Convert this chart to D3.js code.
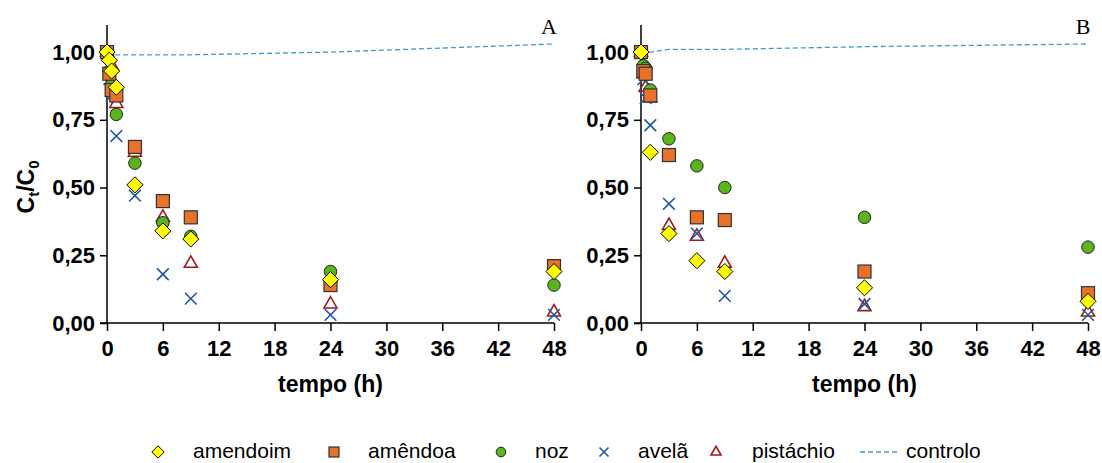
<!DOCTYPE html>
<html>
<head>
<meta charset="utf-8">
<script src="https://cdn.jsdelivr.net/npm/d3@7/dist/d3.min.js"></script>
<style>
  body { margin: 0; background: #fff; }
  svg text { font-family: Arial, "Liberation Sans", sans-serif; }
  .tick text { font-weight: bold; font-size: 22px; fill: #000; }
  .axis path, .axis line { stroke: #000; stroke-width: 1.5; }
</style>
</head>
<body>
<div id="chart"></div>
<script>
// sampling times (h)
var times = [0, 0.25, 0.5, 1, 3, 6, 9, 24, 48];
var controlTimes = [0, 1, 3, 6, 9, 24, 48];
var xTicks = [0, 6, 12, 18, 24, 30, 36, 42, 48];
var yTicks = [0, 0.25, 0.5, 0.75, 1];

var seriesNames = ["amendoim", "amêndoa", "noz", "avelã", "pistáchio"];

// panel A
var amendoimA  = [1.00, 0.97, 0.93, 0.87, 0.51, 0.34, 0.31, 0.16, 0.19];
var amendoaA   = [1.00, 0.92, 0.86, 0.84, 0.65, 0.45, 0.39, 0.14, 0.21];
var nozA       = [1.00, 0.93, 0.88, 0.77, 0.59, 0.37, 0.32, 0.19, 0.14];
var avelaA     = [1.00, 0.90, 0.84, 0.69, 0.47, 0.18, 0.09, 0.03, 0.03];
var pistachioA = [1.00, 0.98, 0.95, 0.81, 0.63, 0.39, 0.22, 0.07, 0.04];
var controloA  = [0.99, 0.99, 0.99, 0.99, 0.99, 1.00, 1.03];

// panel B
var amendoimB  = [1.00, null, null, 0.63, 0.33, 0.23, 0.19, 0.13, 0.08];
var amendoaB   = [1.00, 0.93, 0.92, 0.84, 0.62, 0.39, 0.38, 0.19, 0.11];
var nozB       = [1.00, 0.95, 0.94, 0.86, 0.68, 0.58, 0.50, 0.39, 0.28];
var avelaB     = [1.00, 0.90, 0.83, 0.73, 0.44, 0.33, 0.10, 0.07, 0.03];
var pistachioB = [1.00, 0.92, 0.87, 0.83, 0.36, 0.32, 0.22, 0.06, 0.04];
var controloB  = [1.00, 1.00, 1.01, 1.01, 1.01, 1.02, 1.03];

var colors = {
    amendoim: "#FFFF00",
    amendoa: "#E8722A",
    noz: "#58B51C",
    avela: "#1F57A4",
    pistachio: "#9E1B1E",
    controlo: "#3C9AD0"
};

var svgWidth = 1102, svgHeight = 463;
var svg = d3.select("#chart").append("svg")
    .attr("width", svgWidth)
    .attr("height", svgHeight);

// one marker drawer per series
function drawMarker(g, kind, x, y, s) {
    if (kind === 0) {
        g.append("path")
            .attr("d", `M${x},${y - s * 0.62}L${x + s * 0.62},${y}L${x},${y + s * 0.62}L${x - s * 0.62},${y}Z`)
            .attr("fill", colors.amendoim).attr("stroke", "#000").attr("stroke-width", 1);
    } else if (kind === 1) {
        g.append("rect")
            .attr("x", x - s / 2).attr("y", y - s / 2)
            .attr("width", s).attr("height", s)
            .attr("fill", colors.amendoa).attr("stroke", "#333").attr("stroke-width", 1.2);
    } else if (kind === 2) {
        g.append("circle")
            .attr("cx", x).attr("cy", y).attr("r", s * 0.48)
            .attr("fill", colors.noz).attr("stroke", "#222").attr("stroke-width", 1);
    } else if (kind === 3) {
        var h = s * 0.45;
        g.append("path")
            .attr("d", `M${x - h},${y - h}L${x + h},${y + h}M${x - h},${y + h}L${x + h},${y - h}`)
            .attr("fill", "none").attr("stroke", colors.avela).attr("stroke-width", 1.6);
    } else if (kind === 4) {
        var w = s * 0.5;
        g.append("path")
            .attr("d", `M${x},${y - w * 1.15}L${x + w},${y + w * 0.6}L${x - w},${y + w * 0.6}Z`)
            .attr("fill", "none").attr("stroke", colors.pistachio).attr("stroke-width", 1.6);
    }
}

function drawPanel(left, right, letter, series, controlo) {
    var top = 25, bottom = 323;
    var x = d3.scaleLinear().domain([0, 48]).range([left, right]);
    var y = d3.scaleLinear().domain([0, 1.1]).range([bottom, top]);

    var g = svg.append("g");

    var xAxis = g.append("g")
        .attr("class", "axis")
        .attr("transform", `translate(0, ${bottom})`)
        .call(d3.axisBottom(x).tickValues(xTicks).tickSize(8).tickPadding(9).tickSizeOuter(0));
    var yAxis = g.append("g")
        .attr("class", "axis")
        .attr("transform", `translate(${left}, 0)`)
        .call(d3.axisLeft(y).tickValues(yTicks).tickSize(7).tickPadding(5).tickSizeOuter(0)
            .tickFormat(d => d3.format(".2f")(d).replace(".", ",")));
    // extend y axis line to the top of the domain
    yAxis.select(".domain").attr("d", `M0,${y(0)}V${y(1.1)}`);
    xAxis.select(".domain").attr("d", `M${left - 7},0H${right}`);

    // controlo line
    var line = d3.line()
        .x((d, i) => x(controlTimes[i]))
        .y(d => y(d));
    g.append("path")
        .datum(controlo)
        .attr("d", line)
        .attr("fill", "none")
        .attr("stroke", colors.controlo)
        .attr("stroke-width", 1.3)
        .attr("stroke-dasharray", "5,3");

    // markers, last series underneath
    for (var k = series.length - 1; k >= 0; k--) {
        var mg = g.append("g");
        series[k].forEach((v, i) => {
            if (v === null) return;
            drawMarker(mg, k, x(times[i]), y(v), 13);
        });
    }

    g.append("text")
        .attr("x", (left + right) / 2)
        .attr("y", 392)
        .attr("text-anchor", "middle")
        .attr("font-weight", "bold")
        .attr("font-size", 23)
        .text("tempo (h)");

    g.append("text")
        .attr("x", right - 5)
        .attr("y", 34)
        .attr("text-anchor", "middle")
        .style("font-family", "'Liberation Serif', 'DejaVu Serif', serif")
        .attr("font-size", 22)
        .text(letter);
}

drawPanel(107, 554, "A", [amendoimA, amendoaA, nozA, avelaA, pistachioA], controloA);
drawPanel(641, 1088, "B", [amendoimB, amendoaB, nozB, avelaB, pistachioB], controloB);

// y axis title C_t/C_0
var yTitle = svg.append("text")
    .attr("transform", "translate(34, 187) rotate(-90)")
    .attr("text-anchor", "middle")
    .attr("font-weight", "bold")
    .attr("font-size", 23);
yTitle.append("tspan").text("C");
yTitle.append("tspan").attr("font-size", 15).attr("dy", 5).text("t");
yTitle.append("tspan").attr("dy", -5).text("/C");
yTitle.append("tspan").attr("font-size", 15).attr("dy", 5).text("0");

// legend
var legendX = [158, 334, 501, 604, 716];
var legendTextX = [193, 368, 535, 638, 752];
var legendY = 452;
var legend = svg.append("g");
seriesNames.forEach((name, k) => {
    drawMarker(legend, k, legendX[k], legendY, 10);
    legend.append("text")
        .attr("x", legendTextX[k])
        .attr("y", legendY + 6)
        .attr("font-size", 21)
        .text(name);
});
legend.append("line")
    .attr("x1", 860).attr("x2", 897)
    .attr("y1", legendY).attr("y2", legendY)
    .attr("stroke", colors.controlo)
    .attr("stroke-width", 1.3)
    .attr("stroke-dasharray", "5,3");
legend.append("text")
    .attr("x", 906)
    .attr("y", legendY + 6)
    .attr("font-size", 21)
    .text("controlo");
</script>
</body>
</html>
